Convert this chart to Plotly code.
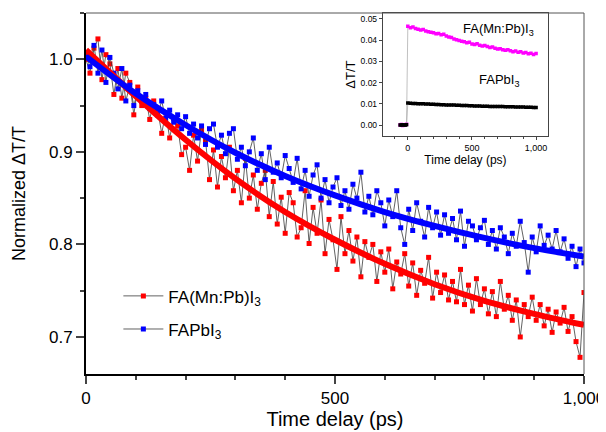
import plotly.graph_objects as go

# main panel: normalized transient transmission, 8 ps steps
time_ps = [
    0, 8, 16, 24, 32, 40, 48, 56, 64, 72, 80, 88, 96, 104, 112, 120,
    128, 136, 144, 152, 160, 168, 176, 184, 192, 200, 208, 216, 224, 232, 240, 248,
    256, 264, 272, 280, 288, 296, 304, 312, 320, 328, 336, 344, 352, 360, 368, 376,
    384, 392, 400, 408, 416, 424, 432, 440, 448, 456, 464, 472, 480, 488, 496, 504,
    512, 520, 528, 536, 544, 552, 560, 568, 576, 584, 592, 600, 608, 616, 624, 632,
    640, 648, 656, 664, 672, 680, 688, 696, 704, 712, 720, 728, 736, 744, 752, 760,
    768, 776, 784, 792, 800, 808, 816, 824, 832, 840, 848, 856, 864, 872, 880, 888,
    896, 904, 912, 920, 928, 936, 944, 952, 960, 968, 976, 984, 992, 1000,
]
mn_pb = [
    1.000, 0.985, 1.012, 1.022, 0.978, 1.005, 0.995, 0.962, 0.990, 0.958, 0.985, 0.975, 0.940, 0.970, 0.950, 0.958,
    0.935, 0.955, 0.945, 0.920, 0.942, 0.915, 0.936, 0.928, 0.897, 0.905, 0.880, 0.918, 0.890, 0.924, 0.912, 0.870,
    0.902, 0.862, 0.895, 0.872, 0.905, 0.858, 0.880, 0.845, 0.893, 0.850, 0.875, 0.838, 0.866, 0.880, 0.830, 0.868,
    0.822, 0.851, 0.812, 0.856, 0.845, 0.808, 0.818, 0.858, 0.801, 0.840, 0.812, 0.848, 0.790, 0.827, 0.805, 0.773,
    0.830, 0.790, 0.815, 0.782, 0.808, 0.765, 0.803, 0.786, 0.800, 0.760, 0.792, 0.770, 0.795, 0.752, 0.781, 0.768,
    0.790, 0.755, 0.780, 0.745, 0.772, 0.758, 0.786, 0.742, 0.770, 0.748, 0.767, 0.740, 0.760, 0.738, 0.773, 0.735,
    0.756, 0.728, 0.763, 0.735, 0.752, 0.725, 0.749, 0.722, 0.760, 0.730, 0.745, 0.718, 0.740, 0.700, 0.735, 0.722,
    0.743, 0.718, 0.735, 0.712, 0.730, 0.705, 0.727, 0.715, 0.732, 0.706, 0.722, 0.695, 0.678, 0.748,
]
fapbi3 = [
    1.005, 0.992, 1.015, 0.985, 1.010, 0.975, 1.002, 0.985, 0.968, 0.990, 0.955, 0.972, 0.950, 0.966, 0.955, 0.962,
    0.947, 0.951, 0.940, 0.955, 0.936, 0.945, 0.932, 0.940, 0.925, 0.938, 0.920, 0.930, 0.915, 0.928, 0.908, 0.925,
    0.930, 0.905, 0.918, 0.898, 0.920, 0.925, 0.892, 0.905, 0.885, 0.900, 0.915, 0.880, 0.898, 0.870, 0.905, 0.878,
    0.888, 0.872, 0.896, 0.882, 0.867, 0.893, 0.860, 0.880, 0.852, 0.875, 0.886, 0.850, 0.870, 0.845, 0.862, 0.872,
    0.842, 0.858, 0.838, 0.865, 0.850, 0.878, 0.835, 0.852, 0.832, 0.858, 0.845, 0.820, 0.848, 0.830, 0.858, 0.818,
    0.800, 0.838, 0.815, 0.845, 0.825, 0.808, 0.840, 0.818, 0.835, 0.810, 0.832, 0.812, 0.828, 0.805, 0.836, 0.798,
    0.825, 0.820, 0.805, 0.818, 0.826, 0.800, 0.815, 0.795, 0.818, 0.808, 0.790, 0.812, 0.798, 0.825, 0.802, 0.770,
    0.808, 0.792, 0.820, 0.799, 0.810, 0.795, 0.815, 0.792, 0.806, 0.785, 0.798, 0.776, 0.795, 0.780,
]

# exponential fits, read every 100 ps
fit_time = [0, 100, 200, 300, 400, 500, 600, 700, 800, 900, 1000]
fit_mn_pb = [1.010, 0.960, 0.913, 0.871, 0.835, 0.805, 0.779, 0.757, 0.739, 0.725, 0.713]
fit_fapbi3 = [1.003, 0.963, 0.929, 0.899, 0.874, 0.853, 0.835, 0.820, 0.807, 0.796, 0.787]

# inset: raw dT/T, 20 ps steps after time zero
inset_time = [
    -60, -50, -40, -30, -20, -10,
    0, 20, 40, 60, 80, 100, 120, 140, 160, 180, 200, 220, 240, 260, 280, 300, 320,
    340, 360, 380, 400, 420, 440, 460, 480, 500, 520, 540, 560, 580, 600, 620, 640,
    660, 680, 700, 720, 740, 760, 780, 800, 820, 840, 860, 880, 900, 920, 940, 960,
    980, 1000,
]
inset_mn_pb = [
    0.0000, 0.0003, -0.0002, 0.0001, 0.0000, 0.0004,
    0.0465, 0.0458, 0.0462, 0.0455, 0.0452, 0.0448, 0.0450, 0.0443, 0.0440, 0.0437, 0.0435, 0.0430, 0.0432, 0.0425, 0.0428, 0.0420, 0.0415,
    0.0412, 0.0405, 0.0402, 0.0398, 0.0395, 0.0392, 0.0388, 0.0390, 0.0382, 0.0380, 0.0383, 0.0376, 0.0372, 0.0375, 0.0370, 0.0366,
    0.0368, 0.0362, 0.0358, 0.0360, 0.0355, 0.0352, 0.0355, 0.0350, 0.0346, 0.0349, 0.0343, 0.0345, 0.0340, 0.0342, 0.0336, 0.0338,
    0.0333, 0.0337,
]
inset_fapbi3 = [
    0.0000, 0.0000, 0.0001, 0.0000, 0.0000, 0.0001,
    0.0104, 0.0103, 0.0102, 0.0102, 0.0101, 0.0100, 0.0100, 0.0099, 0.0099, 0.0098, 0.0098, 0.0097, 0.0097, 0.0096, 0.0096, 0.0095, 0.0095,
    0.0094, 0.0094, 0.0093, 0.0093, 0.0092, 0.0092, 0.0092, 0.0091, 0.0091, 0.0090, 0.0090, 0.0090, 0.0089, 0.0089, 0.0089, 0.0088,
    0.0088, 0.0088, 0.0087, 0.0087, 0.0087, 0.0086, 0.0086, 0.0086, 0.0086, 0.0085, 0.0085, 0.0085, 0.0085, 0.0084, 0.0084, 0.0084,
    0.0083, 0.0083,
]

font = "Arial, Liberation Sans, sans-serif"

fig = go.Figure()

for name, ys, col in [("FA(Mn:Pb)I<sub>3</sub>", mn_pb, "#ff0000"), ("FAPbI<sub>3</sub>", fapbi3, "#0000ff")]:
    fig.add_trace(
        go.Scatter(
            x=time_ps, y=ys, name=name, mode="lines+markers",
            line=dict(color="#3a3a3a", width=0.8),
            marker=dict(symbol="square", size=5, color=col),
            legendgroup=name,
        )
    )

for ys, col in [(fit_mn_pb, "#ff0000"), (fit_fapbi3, "#0000ff")]:
    fig.add_trace(
        go.Scatter(
            x=fit_time, y=ys, mode="lines", showlegend=False,
            line=dict(color=col, width=6, shape="spline"),
        )
    )

for ys, col in [(inset_mn_pb, "#ff00ff"), (inset_fapbi3, "#000000")]:
    fig.add_trace(
        go.Scatter(
            x=inset_time, y=ys, mode="lines+markers", showlegend=False,
            line=dict(color="#b0b0b0", width=0.8),
            marker=dict(symbol="square", size=3.5, color=col),
            xaxis="x2", yaxis="y2",
        )
    )

# the page body adds 8 px around the figure, so the figure is 8 px smaller
fig.update_layout(
    width=598, height=424,
    margin=dict(l=78, r=22, t=5, b=58),
    plot_bgcolor="white", paper_bgcolor="white",
    font=dict(family=font, color="black"),
    legend=dict(
        x=0.065, y=0.265, xanchor="left", yanchor="top",
        font=dict(size=17), bgcolor="rgba(0,0,0,0)",
        tracegroupgap=8, itemwidth=40,
    ),
    xaxis=dict(
        range=[0, 1000], dtick=500, tickformat=",d", automargin=False,
        showline=True, linecolor="black", linewidth=2,
        ticks="outside", ticklen=8, tickwidth=1.5,
        minor=dict(dtick=100, ticks="outside", ticklen=4, tickwidth=1.5),
        showgrid=False, zeroline=False,
        tickfont=dict(size=17),
        title=dict(text="Time delay (ps)", font=dict(size=20), standoff=0),
    ),
    yaxis=dict(
        range=[0.66, 1.05], dtick=0.1, tick0=0.7, tickformat=".1f", automargin=False,
        showline=True, linecolor="black", linewidth=2,
        ticks="outside", ticklen=8, tickwidth=1.5,
        minor=dict(dtick=0.05, ticks="outside", ticklen=4, tickwidth=1.5),
        showgrid=False, zeroline=False,
        tickfont=dict(size=17),
        title=dict(text="Normalized \u0394T/T", font=dict(size=18), standoff=19),
    ),
    xaxis2=dict(
        domain=[0.596, 0.928], anchor="y2", automargin=False,
        range=[-195, 1094], tickvals=[0, 500, 1000], ticktext=["0", "500", "1,000"],
        showline=True, mirror=True, linecolor="#444444", linewidth=1,
        ticks="outside", ticklen=3, tickwidth=1,
        minor=dict(dtick=100, ticks="outside", ticklen=2),
        showgrid=False, zeroline=False,
        tickfont=dict(size=9),
        title=dict(text="Time delay (ps)", font=dict(size=12), standoff=0),
    ),
    yaxis2=dict(
        domain=[0.659, 1.0], anchor="x2", automargin=False,
        range=[-0.0052, 0.0528], dtick=0.01, tickformat=".2f",
        showline=True, mirror=True, linecolor="#444444", linewidth=1,
        ticks="outside", ticklen=3, tickwidth=1,
        showgrid=False, zeroline=False,
        tickfont=dict(size=8.5),
        title=dict(text="\u0394T/T", font=dict(size=13), standoff=2),
    ),
    shapes=[
        dict(type="line", xref="paper", yref="paper", x0=0, x1=1, y0=1, y1=1,
             line=dict(color="#555555", width=1)),
        dict(type="line", xref="paper", yref="paper", x0=1, x1=1, y0=0, y1=1,
             line=dict(color="#555555", width=1)),
    ],
    annotations=[
        dict(text="FA(Mn:Pb)I<sub>3</sub>", x=1000, y=0.045, xref="x2", yref="y2",
             xanchor="right", yanchor="middle", showarrow=False, font=dict(size=13)),
        dict(text="FAPbI<sub>3</sub>", x=880, y=0.021, xref="x2", yref="y2",
             xanchor="right", yanchor="middle", showarrow=False, font=dict(size=13)),
    ],
)

fig.write_html("out.html")
